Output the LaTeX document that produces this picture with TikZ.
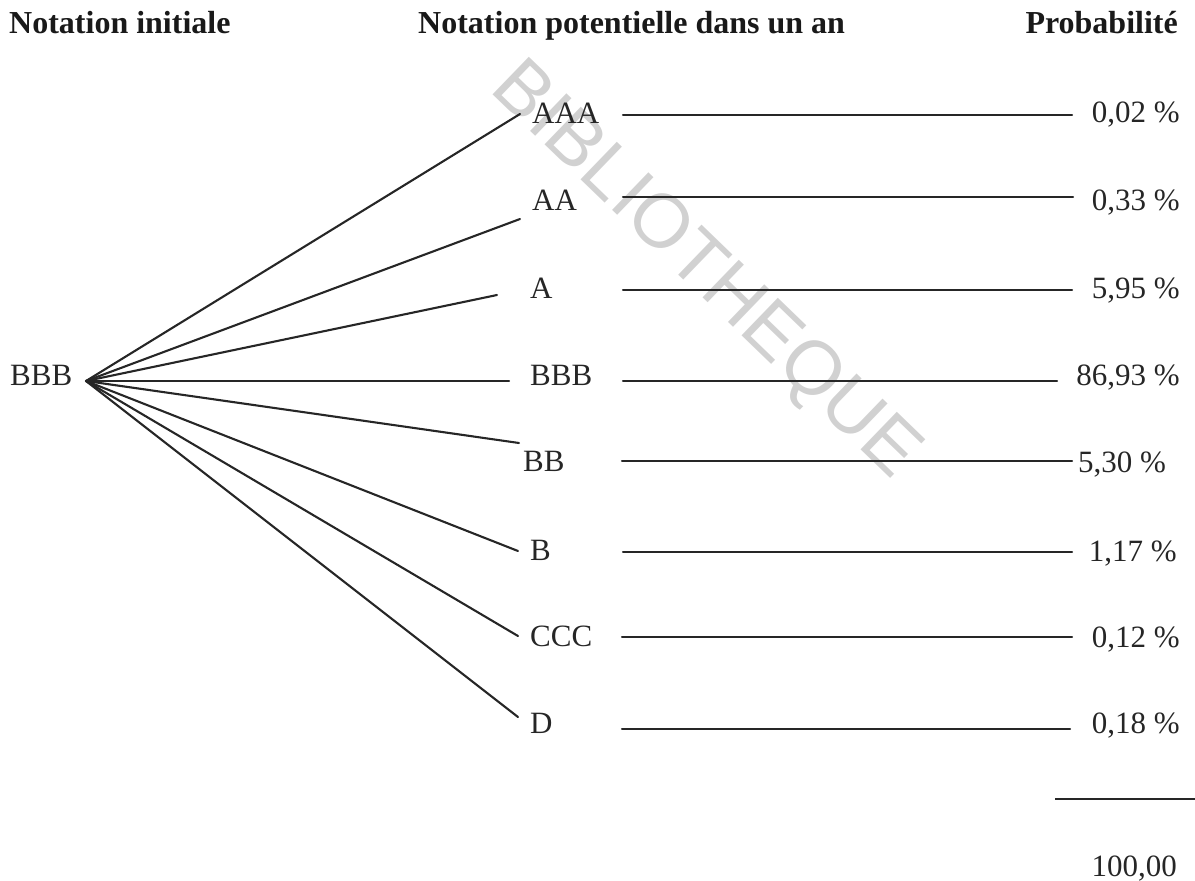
\documentclass[tikz,border=0pt]{standalone}
\usepackage{fontspec}
\setmainfont{Liberation Serif}
\newfontfamily\wmfont{Liberation Sans}
\begin{document}
\begin{tikzpicture}[x=1pt,y=-1pt,
  lbl/.style={inner sep=0pt,font=\fontsize{31}{31}\selectfont,text=black!85},
  hdr/.style={inner sep=0pt,font=\fontsize{32}{32}\selectfont\bfseries,text=black!90},
  ln/.style={line width=2.1pt,draw=black!85,line cap=round}]
\useasboundingbox (0,0) rectangle (1195,881);
% watermark
\node[rotate=-44,inner sep=0pt,font=\wmfont\fontsize{76}{76}\selectfont,text=black!18] (wm) at (704,272) {BIBLIOTHEQUE};
% headers
\node[hdr,anchor=base west] (h1) at (9,33) {Notation initiale};
\node[hdr,anchor=base west] (h2) at (418,33) {Notation potentielle dans un an};
\node[hdr,anchor=base east] (h3) at (1178,33) {Probabilité};
% left node
\node[lbl,anchor=base west] (root) at (10,385) {BBB};
\coordinate (o) at (86,381);
% middle labels
\node[lbl,anchor=base west] (nAAA) at (532,123) {AAA};
\node[lbl,anchor=base west] (nAA) at (532,210) {AA};
\node[lbl,anchor=base west] (nA) at (530,298) {A};
\node[lbl,anchor=base west] (nBBB) at (530,385) {BBB};
\node[lbl,anchor=base west] (nBB) at (523,471) {BB};
\node[lbl,anchor=base west] (nB) at (530,560) {B};
\node[lbl,anchor=base west] (nCCC) at (530,646) {CCC};
\node[lbl,anchor=base west] (nD) at (530,733) {D};
% fan end points
\coordinate (fAAA) at (520,114);
\coordinate (fAA) at (520,219);
\coordinate (fA) at (497,295);
\coordinate (fBBB) at (509,381);
\coordinate (fBB) at (519,443);
\coordinate (fB) at (518,551);
\coordinate (fCCC) at (518,636);
\coordinate (fD) at (518,717);
\foreach \n in {AAA,AA,A,BBB,BB,B,CCC,D}{\draw[ln] (o) -- (f\n);}
% probabilities
\node[lbl,anchor=base east] (p1) at (1180,122) {0,02 \%};
\node[lbl,anchor=base east] (p2) at (1180,210) {0,33 \%};
\node[lbl,anchor=base east] (p3) at (1180,298) {5,95 \%};
\node[lbl,anchor=base east] (p4) at (1180,385) {86,93 \%};
\node[lbl,anchor=base west] (p5) at (1078,472) {5,30 \%};
\node[lbl,anchor=base east] (p6) at (1177,561) {1,17 \%};
\node[lbl,anchor=base east] (p7) at (1180,647) {0,12 \%};
\node[lbl,anchor=base east] (p8) at (1180,733) {0,18 \%};
\node[lbl,anchor=base east] (tot) at (1177,876) {100,00};
% right lines
\coordinate (sAAA) at (623,115); \coordinate (eAAA) at (1072,115);
\coordinate (sAA) at (623,197);  \coordinate (eAA) at (1073,197);
\coordinate (sA) at (623,290);   \coordinate (eA) at (1072,290);
\coordinate (sBBB) at (623,381); \coordinate (eBBB) at (1057,381);
\coordinate (sBB) at (622,461);  \coordinate (eBB) at (1072,461);
\coordinate (sB) at (623,552);   \coordinate (eB) at (1072,552);
\coordinate (sCCC) at (622,637); \coordinate (eCCC) at (1072,637);
\coordinate (sD) at (622,729);   \coordinate (eD) at (1070,729);
\foreach \n in {AAA,AA,A,BBB,BB,B,CCC,D}{\draw[ln] (s\n) -- (e\n);}
\coordinate (t1) at (1055,799); \coordinate (t2) at (1195,799);
\draw[ln,line cap=butt] (t1) -- (t2);
\end{tikzpicture}
\end{document}
